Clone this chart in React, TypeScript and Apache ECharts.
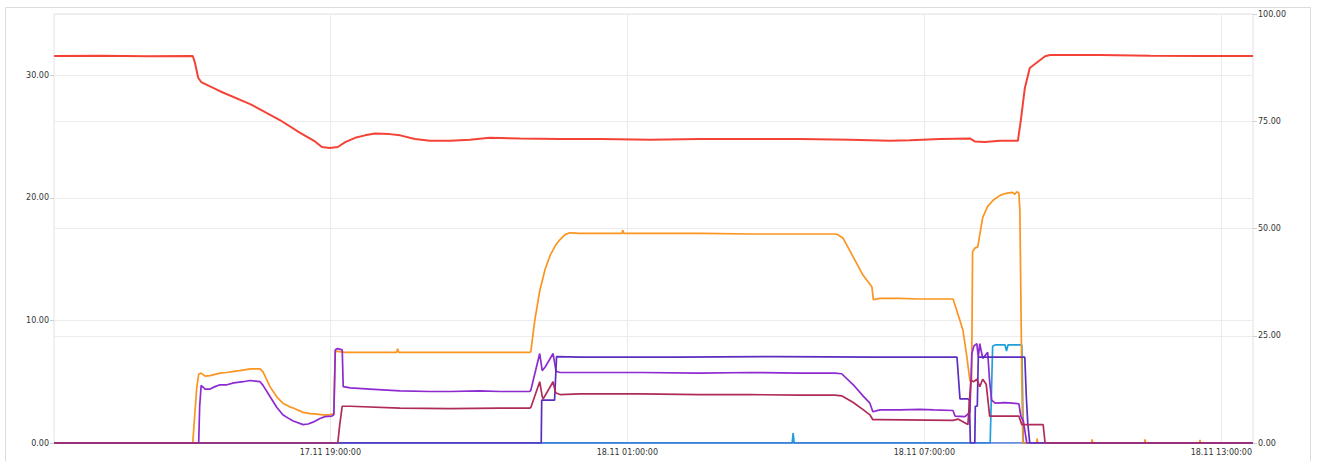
import React, { useEffect, useRef } from "react";
import * as echarts from "echarts";

// time is given in hours counted from 17.11 00:00
const xRange = [13.417, 37.64];
const xTickHours = [19, 25, 31, 37];
const leftAxis = { min: 0, max: 35, interval: 10 };
const rightAxis = { min: 0, max: 100, interval: 25 };

const redSeries: number[][] = [
  [13.42, 31.57], [14.35, 31.6], [15.3, 31.55], [16.22, 31.57], [16.26, 31.1], [16.33, 29.8], [16.39, 29.45],
  [16.77, 28.7], [17.38, 27.65], [17.98, 26.35], [18.39, 25.3], [18.69, 24.6], [18.83, 24.15],
  [18.99, 24.07], [19.15, 24.15], [19.3, 24.55], [19.5, 24.9], [19.7, 25.1], [19.9, 25.25],
  [20.2, 25.2], [20.41, 25.1], [20.71, 24.8], [21.01, 24.65], [21.42, 24.65], [21.82, 24.75],
  [22.22, 24.9], [22.83, 24.85], [23.64, 24.8], [24.45, 24.8], [25.46, 24.75], [26.47, 24.8],
  [27.48, 24.8], [28.49, 24.8], [29.5, 24.75], [29.9, 24.7], [30.31, 24.65], [30.71, 24.7],
  [31.32, 24.8], [31.92, 24.85], [32.02, 24.6], [32.22, 24.55], [32.53, 24.65], [32.89, 24.65],
  [32.95, 26.35], [33.03, 28.95], [33.13, 30.6], [33.34, 31.25], [33.44, 31.55], [33.54, 31.65],
  [34.55, 31.65], [35.56, 31.6], [36.57, 31.57], [37.64, 31.57],
];

const orangeSeries: number[][] = [
  [13.42, 0], [16.22, 0], [16.3, 4.5], [16.34, 5.6], [16.39, 5.7], [16.47, 5.45], [16.57, 5.5],
  [16.67, 5.6], [16.77, 5.7], [16.91, 5.75], [17.05, 5.85], [17.17, 5.9], [17.24, 5.95],
  [17.38, 6.05], [17.48, 6.05], [17.58, 6.05], [17.64, 5.8], [17.78, 4.6], [17.92, 3.75],
  [18.04, 3.25], [18.18, 2.95], [18.25, 2.85], [18.45, 2.5], [18.59, 2.4], [18.73, 2.35],
  [18.85, 2.3], [18.99, 2.3], [19.07, 2.4], [19.1, 7.5], [19.3, 7.4], [20.0, 7.4], [20.34, 7.4],
  [20.36, 7.7], [20.38, 7.4], [21.5, 7.4], [22.5, 7.4], [23.03, 7.4], [23.05, 7.45], [23.13, 10.0],
  [23.23, 12.4], [23.34, 14.2], [23.44, 15.3], [23.56, 16.2], [23.64, 16.6], [23.74, 17.0],
  [23.84, 17.15], [24.04, 17.1], [24.45, 17.1], [24.89, 17.1], [24.91, 17.35], [24.93, 17.1],
  [25.5, 17.1], [26.5, 17.1], [27.5, 17.05], [28.5, 17.05], [29.19, 17.05], [29.25, 17.0],
  [29.36, 16.7], [29.56, 15.2], [29.76, 13.7], [29.94, 12.75], [29.97, 11.7], [30.1, 11.8],
  [30.5, 11.8], [30.91, 11.75], [31.2, 11.75], [31.58, 11.75], [31.72, 10.0], [31.78, 9.2],
  [31.86, 7.0], [31.92, 5.1], [31.955, 5.0], [31.975, 15.6], [32.02, 15.9], [32.08, 16.0],
  [32.12, 17.0], [32.18, 18.4], [32.28, 19.3], [32.39, 19.8], [32.53, 20.2], [32.63, 20.35],
  [32.77, 20.45], [32.83, 20.3], [32.87, 20.5], [32.91, 20.4], [32.93, 19.0], [32.97, 5.0],
  [32.99, 0], [33.27, 0], [33.28, 0.35], [33.29, 0], [34.38, 0], [34.39, 0.3], [34.4, 0],
  [35.45, 0], [35.46, 0.3], [35.47, 0], [36.56, 0], [36.57, 0.25], [36.58, 0], [37.64, 0],
];

const purpleSeries: number[][] = [
  [13.42, 0], [16.34, 0], [16.36, 3.0], [16.39, 4.7], [16.47, 4.4], [16.57, 4.4], [16.67, 4.6],
  [16.77, 4.75], [16.91, 4.75], [17.05, 4.9], [17.24, 5.0], [17.38, 5.1], [17.48, 5.05],
  [17.58, 5.0], [17.64, 4.7], [17.78, 3.8], [17.92, 2.9], [18.04, 2.3], [18.18, 1.95],
  [18.25, 1.8], [18.45, 1.5], [18.55, 1.55], [18.65, 1.7], [18.79, 2.0], [18.89, 2.15],
  [19.03, 2.2], [19.07, 2.3], [19.1, 7.6], [19.15, 7.7], [19.24, 7.6], [19.26, 4.6], [19.4, 4.5],
  [19.8, 4.4], [20.41, 4.25], [21.01, 4.2], [21.42, 4.2], [22.02, 4.25], [22.43, 4.2],
  [23.03, 4.2], [23.05, 4.3], [23.23, 7.3], [23.28, 5.9], [23.34, 6.2], [23.5, 7.3], [23.56, 5.85],
  [23.64, 5.75], [24.04, 5.75], [25.26, 5.75], [26.47, 5.7], [27.48, 5.75], [28.49, 5.7],
  [29.19, 5.7], [29.33, 5.65], [29.565, 4.75], [29.77, 3.8], [29.9, 3.25], [29.96, 2.55],
  [30.1, 2.7], [30.5, 2.7], [30.91, 2.75], [31.2, 2.7], [31.58, 2.65], [31.62, 2.2],
  [31.82, 2.15], [31.92, 2.5], [31.96, 7.3], [32.0, 7.9], [32.06, 8.1], [32.09, 7.0],
  [32.12, 8.1], [32.18, 6.9], [32.28, 7.4], [32.32, 5.0], [32.36, 3.5], [32.43, 3.25],
  [32.63, 3.3], [32.77, 3.25], [32.91, 3.2], [32.95, 2.2], [33.0, 1.8], [33.07, 0], [37.64, 0],
];

const indigoSeries: number[][] = [
  [13.42, 0], [23.26, 0], [23.27, 3.5], [23.53, 3.5], [23.57, 7.05], [24.04, 7.0], [26.0, 7.0],
  [28.0, 7.05], [30.0, 7.0], [31.66, 7.0], [31.72, 3.6], [31.88, 3.6], [31.91, 3.5], [31.93, 0],
  [32.02, 0], [32.03, 3.0], [32.07, 3.0], [32.09, 7.0], [33.03, 7.0], [33.06, 3.8], [33.09, 1.6],
  [33.13, 0], [37.64, 0],
];

const maroonSeries: number[][] = [
  [13.42, 0], [19.15, 0], [19.19, 1.5], [19.24, 3.0], [19.4, 3.0], [20.41, 2.85], [21.42, 2.8],
  [22.43, 2.85], [23.03, 2.85], [23.05, 2.9], [23.23, 5.0], [23.28, 3.8], [23.3, 3.6],
  [23.5, 5.0], [23.55, 4.1], [23.64, 3.95], [24.04, 4.0], [25.26, 4.0], [26.47, 3.95],
  [27.48, 3.95], [28.49, 3.9], [29.19, 3.9], [29.33, 3.85], [29.565, 3.3], [29.77, 2.7],
  [29.9, 2.3], [29.96, 1.9], [30.1, 1.9], [31.58, 1.85], [31.68, 1.95], [31.88, 1.5],
  [31.94, 5.1], [32.0, 5.0], [32.06, 5.2], [32.12, 4.6], [32.18, 5.2], [32.25, 4.8],
  [32.32, 2.2], [32.43, 2.2], [32.91, 2.2], [32.97, 1.5], [33.4, 1.5], [33.44, 0], [37.64, 0],
];

const lightBlueSeries: number[][] = [
  [13.42, 0], [28.33, 0], [28.35, 0.8], [28.37, 0], [32.33, 0], [32.38, 7.9], [32.43, 8.0],
  [32.63, 8.0], [32.66, 7.5], [32.69, 8.0], [32.97, 8.0], [33.0, 0], [37.64, 0],
];

const blueSeries: number[][] = [
  [13.42, 0], [37.64, 0],
];

const toMin = (pts: number[][]) => pts.map(([h, v]) => [Math.round(h * 600) / 10, v]);
const pad = (n: number) => (n < 10 ? "0" + n : "" + n);
const fmtTime = (m: number) => {
  const day = 17 + Math.floor(m / 1440);
  const rem = Math.round(m - Math.floor(m / 1440) * 1440);
  const hh = Math.floor(rem / 60);
  const mm = rem % 60;
  return `${day}.11 ${pad(hh)}:${pad(mm)}:00`;
};

export default function App() {
  const ref = useRef<HTMLDivElement>(null);
  useEffect(() => {
    if (!ref.current) return;
    const chart = echarts.init(ref.current, undefined, { renderer: "svg" });
    const font = "DejaVu Sans";
    const mk = (name: string, data: number[][], color: string, width = 1.7, yAxisIndex = 0) => ({
      name,
      type: "line",
      data: toMin(data),
      yAxisIndex,
      showSymbol: false,
      symbol: "none",
      lineStyle: { color, width },
      itemStyle: { color },
      z: 2,
    });
    chart.setOption({
      animation: false,
      backgroundColor: "#fff",
      graphic: [
        {
          type: "rect",
          shape: { x: 5.5, y: 7.5, width: 1305, height: 480 },
          style: { fill: "none", stroke: "#dcdcdc", lineWidth: 1 },
          silent: true,
        },
      ],
      grid: {
        left: 54,
        right: 64,
        top: 14,
        bottom: 18,
        show: true,
        borderColor: "#e2e2e2",
        borderWidth: 1,
      },
      xAxis: {
        type: "value",
        min: xRange[0] * 60,
        max: xRange[1] * 60,
        axisLine: { show: false },
        axisTick: { show: false, customValues: xTickHours.map((h) => h * 60) },
        axisLabel: {
          customValues: xTickHours.map((h) => h * 60),
          formatter: (v: number) => fmtTime(v),
          fontFamily: font,
          fontSize: 8,
          color: "#333",
          margin: 5,
        },
        splitLine: { show: true, lineStyle: { color: "#ebebeb", width: 1 } },
      },
      yAxis: [
        {
          type: "value",
          min: leftAxis.min,
          max: leftAxis.max,
          interval: leftAxis.interval,
          position: "left",
          axisLine: { show: false },
          axisTick: { show: true, length: 4, lineStyle: { color: "#d0d0d0" } },
          axisLabel: {
            formatter: (v: number) => v.toFixed(2),
            fontFamily: font,
            fontSize: 8,
            color: "#333",
            margin: 5,
            showMaxLabel: false,
          },
          splitLine: { show: true, lineStyle: { color: "#ececec", width: 1 } },
        },
        {
          type: "value",
          min: rightAxis.min,
          max: rightAxis.max,
          interval: rightAxis.interval,
          position: "right",
          axisLine: { show: false },
          axisTick: { show: true, length: 4, lineStyle: { color: "#d0d0d0" } },
          axisLabel: {
            formatter: (v: number) => v.toFixed(2),
            fontFamily: font,
            fontSize: 8,
            color: "#333",
            margin: 5,
          },
          splitLine: { show: true, lineStyle: { color: "#ececec", width: 1 } },
        },
      ],
      series: [
        mk("lightblue", lightBlueSeries, "#1f9fdc"),
        mk("blue", blueSeries, "#3a6fd8"),
        mk("orange", orangeSeries, "#fb951f"),
        mk("purple", purpleSeries, "#8e2bd0"),
        mk("indigo", indigoSeries, "#5b2dbf"),
        mk("maroon", maroonSeries, "#b02b5c"),
        mk("red", redSeries, "#f44336", 2),
      ],
    });
    return () => chart.dispose();
  }, []);
  return (
    <div
      ref={ref}
      style={{ position: "fixed", left: 0, top: 0, width: 1317, height: 461, background: "#fff" }}
    />
  );
}
